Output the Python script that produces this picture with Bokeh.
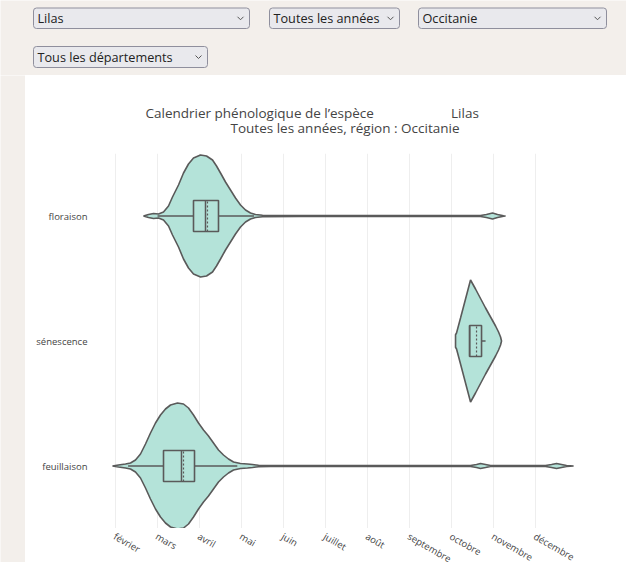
import math
from bokeh.plotting import figure
from bokeh.layouts import column, row
from bokeh.models import FixedTicker, Range1d
from bokeh.core.properties import value
from bokeh.embed import file_html
from bokeh.resources import INLINE

# ---------------- data ----------------
stages = ["feuillaison", "sénescence", "floraison"]          # bottom -> top
month_ticks = [2, 3, 4, 5, 6, 7, 8, 9, 10, 11, 12]
month_labels = ["février", "mars", "avril", "mai", "juin", "juillet", "août",
                "septembre", "octobre", "novembre", "décembre"]

# violin profiles: position (month units) and half-width (fraction of a category band)
flo_pos = [2.667, 2.786, 2.905, 3.024, 3.143, 3.262, 3.357, 3.5, 3.619, 3.738, 3.857,
           4.024, 4.167, 4.31, 4.405, 4.5, 4.619, 4.738, 4.857, 4.976, 5.095, 5.214,
           5.333, 5.5, 6.4, 10.69, 10.83, 10.976, 11.095, 11.238, 11.286]
flo_hw = [0, .012, .02, .016, .032, .08, .152, .248, .344, .416, .464,
          .488, .48, .448, .4, .344, .272, .208, .144, .088, .048, .024,
          .012, .006, .004, .004, .012, .024, .012, .002, 0]

sen_pos = [10.095, 10.119, 10.214, 10.333, 10.452, 10.571, 10.69, 10.81, 10.929,
           11.048, 11.119, 11.167, 11.19]
sen_hw = [0.05, 0.064, 0.184, 0.336, 0.488, 0.416, 0.34, 0.264, 0.192,
          0.12, 0.072, 0.032, 0]

fe_pos = [1.929, 2.071, 2.238, 2.357, 2.476, 2.595, 2.714, 2.833, 2.952, 3.071, 3.19,
          3.31, 3.476, 3.619, 3.738, 3.857, 3.976, 4.095, 4.214, 4.333, 4.452, 4.571,
          4.69, 4.81, 4.976, 5.143, 5.262, 5.405, 5.69, 10.452, 10.595, 10.69, 10.81,
          10.929, 12.238, 12.381, 12.5, 12.619, 12.738, 12.905]
fe_hw = [0, .008, .016, .024, .048, .096, .176, .264, .344, .408, .456,
         .488, .504, .496, .464, .408, .344, .288, .24, .184, .128, .088,
         .056, .032, .02, .016, .012, .006, .004, .004, .012, .02, .012,
         .004, .004, .012, .02, .012, .004, 0]

# box statistics (month units): q1, median, mean, q3, whisker low, whisker high
fe_box = [3.143, 3.571, 3.619, 3.881, 2.3, 4.9]
sen_box = [10.43, 10.43, 10.595, 10.714, 10.43, 10.81]
flo_box = [3.857, 4.143, 4.19, 4.452, 3.0, 5.3]

dropdown_labels = ["Lilas", "Toutes les années", "Occitanie", "Tous les départements"]

title_lines = ["Calendrier phénologique de l’espèce" + "\u00a0" * 22 + "Lilas",
               "Toutes les années, région : Occitanie"]

# ---------------- styles ----------------
BEIGE = "#f3efeb"
MINT = "#b4e3d9"
EDGE = "#5a5a5a"
FONT = "Open Sans"
TXT = "#444444"
BOX_HALF = 0.124
ML, MR = 70, 46   # chart frame margins (left / right)


def bare(fig, fill):
    fig.axis.visible = False
    fig.grid.visible = False
    fig.outline_line_color = None
    fig.background_fill_color = fill
    fig.border_fill_color = fill


# ---------------- header with dropdowns ----------------
hdr = figure(width=626, height=75, x_range=Range1d(0, 626), y_range=Range1d(75, 0),
             output_backend="svg", toolbar_location=None, min_border=0)
bare(hdr, BEIGE)

dd_left = [33, 269, 418, 33]
dd_right = [249, 399, 606, 207]
dd_top = [7.5, 7.5, 7.5, 46]
dd_bottom = [28, 28, 28, 67]
hdr.quad(left=dd_left, right=dd_right, top=dd_top, bottom=dd_bottom,
         fill_color="#e9e9ed", line_color="#8f8f9d", line_width=1, border_radius=3)
hdr.text(x=[l + 4 for l in dd_left], y=[(t + b) / 2 for t, b in zip(dd_top, dd_bottom)],
         text=dropdown_labels, text_font=value(FONT), text_font_size="12.7px",
         text_baseline="middle", text_color="#222222")
chev_x = [r - 9 for r in dd_right]
chev_y = [(t + b) / 2 for t, b in zip(dd_top, dd_bottom)]
hdr.multi_line(xs=[[cx - 3, cx, cx + 3] for cx in chev_x],
               ys=[[cy - 1.5, cy + 1.5, cy - 1.5] for cy in chev_y],
               line_color="#555555", line_width=1)

# ---------------- left beige strip ----------------
strip = figure(width=25, height=487, output_backend="svg", toolbar_location=None, min_border=0)
bare(strip, BEIGE)

# ---------------- title block (frame aligned with chart frame) ----------------
ttl = figure(width=601, height=78, x_range=Range1d(0, 601 - ML - MR), y_range=Range1d(78, 0),
             output_backend="svg", toolbar_location=None,
             min_border_left=ML, min_border_right=MR, min_border_top=0, min_border_bottom=0)
bare(ttl, "white")
ttl.text(x=[50, 135], y=[37, 52], text=title_lines, text_font=value(FONT),
         text_font_size="13.5px", text_baseline="middle", text_color=TXT)

# ---------------- chart ----------------
x_rng = Range1d(1.524, 13.07)
chart = figure(width=601, height=375, x_range=x_rng, y_range=Range1d(-0.5, 2.5),
               output_backend="svg", toolbar_location=None,
               min_border_left=ML, min_border_right=MR, min_border_top=0, min_border_bottom=0)
chart.outline_line_color = None
chart.background_fill_color = "white"
chart.border_fill_color = "white"

profiles = [(fe_pos, fe_hw, fe_box), (sen_pos, sen_hw, sen_box), (flo_pos, flo_hw, flo_box)]
for c, (pos, hw, box) in enumerate(profiles):
    xs = list(pos) + list(pos)[::-1]
    ys = [c + w for w in hw] + [c - w for w in hw][::-1]
    chart.patch(xs, ys, fill_color=MINT, line_color=EDGE, line_width=1.6)
    q1, med, mean, q3, lo, hi = box
    chart.segment(x0=[lo, q3], y0=[c, c], x1=[q1, hi], y1=[c, c], line_color=EDGE, line_width=1.5)
    chart.quad(left=[q1], right=[q3], bottom=[c - BOX_HALF], top=[c + BOX_HALF],
               fill_color=MINT, line_color=EDGE, line_width=1.6)
    chart.segment(x0=[med], y0=[c - BOX_HALF], x1=[med], y1=[c + BOX_HALF],
                  line_color=EDGE, line_width=1.5)
    chart.segment(x0=[mean], y0=[c - BOX_HALF], x1=[mean], y1=[c + BOX_HALF],
                  line_color=EDGE, line_width=1.2, line_dash="2 2")

chart.xaxis.visible = False
chart.xgrid.ticker = FixedTicker(ticks=month_ticks)
chart.xgrid.grid_line_color = "#eeeeee"
chart.ygrid.grid_line_color = None
chart.yaxis.ticker = FixedTicker(ticks=[0, 1, 2])
chart.yaxis.major_label_overrides = {i: s for i, s in enumerate(stages)}
chart.yaxis.axis_line_color = None
chart.yaxis.major_tick_line_color = None
chart.yaxis.minor_tick_line_color = None
chart.yaxis.major_label_text_font = FONT
chart.yaxis.major_label_text_font_size = "9.5px"
chart.yaxis.major_label_text_color = TXT
chart.yaxis.major_label_standoff = 2

# ---------------- month tick labels (shared x scale) ----------------
axf = figure(width=601, height=34, x_range=x_rng, y_range=Range1d(0, 1),
             output_backend="svg", toolbar_location=None,
             min_border_left=ML, min_border_right=MR, min_border_top=0, min_border_bottom=0)
bare(axf, "white")
axf.text(x=month_ticks, y=[axf.y_range.end] * len(month_ticks), text=month_labels,
         angle=-math.pi / 6, text_align="left", text_baseline="middle", y_offset=7, x_offset=-1,
         text_font=value(FONT), text_font_size="9.5px", text_color=TXT)

p = column(hdr, row(strip, column(ttl, chart, axf)))
open("out.html", "w").write(file_html(p, INLINE))
